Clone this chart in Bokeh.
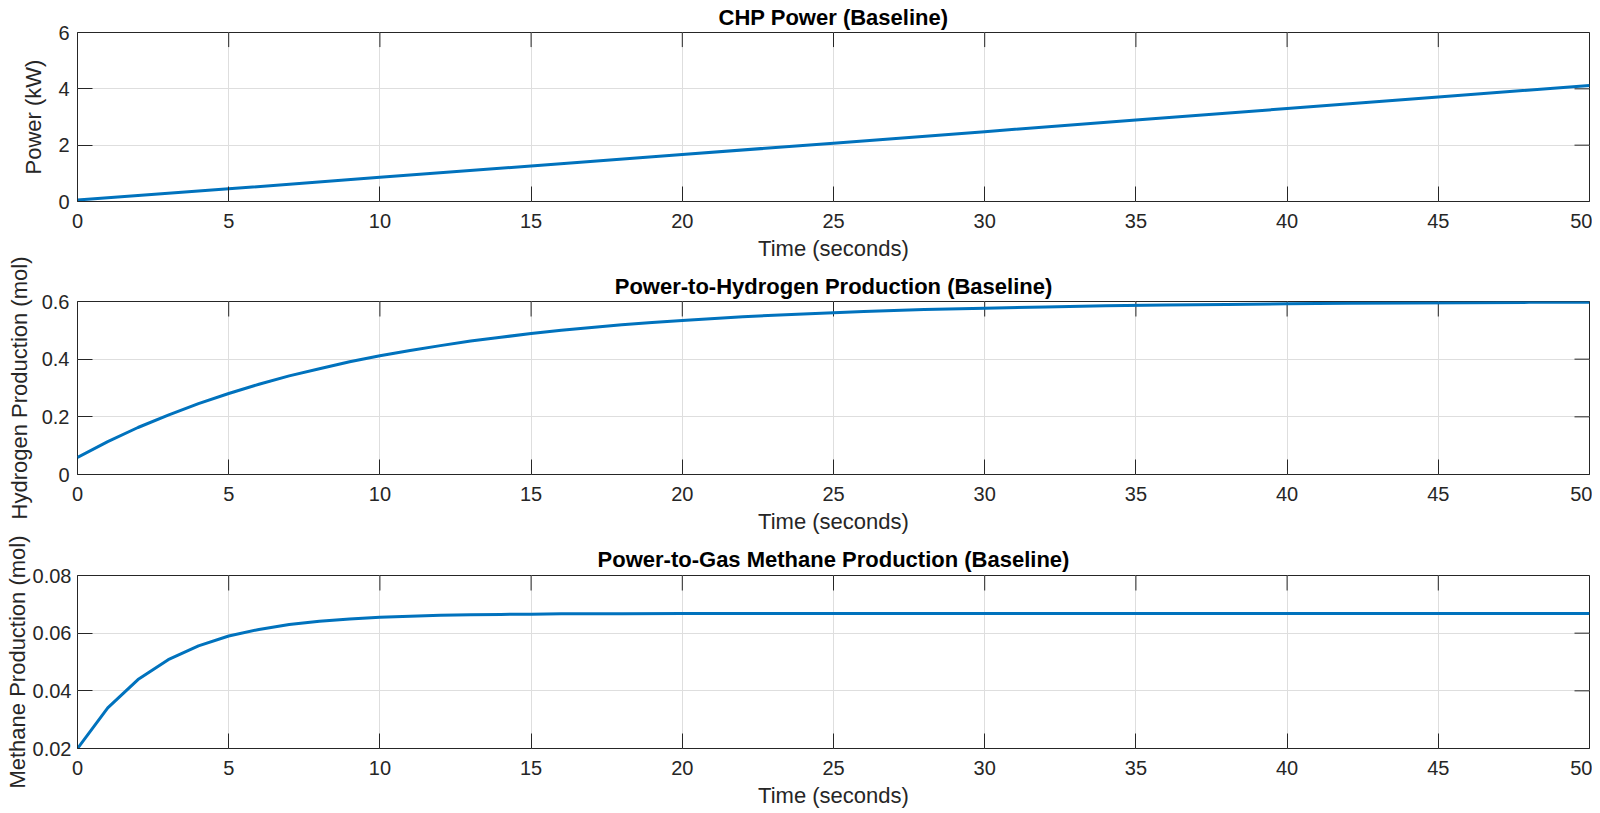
from bokeh.plotting import figure
from bokeh.models import Range1d
from bokeh.layouts import column
from bokeh.embed import file_html
from bokeh.resources import INLINE

# ---------------- data ----------------
x_ticks = [0, 5, 10, 15, 20, 25, 30, 35, 40, 45, 50]
x_tick_labels = ["0", "5", "10", "15", "20", "25", "30", "35", "40", "45", "50"]

chp_time = [0, 5, 10, 15, 20, 25, 30, 35, 40, 45, 50]
chp_power = [0.05, 0.45, 0.86, 1.26, 1.67, 2.07, 2.48, 2.89, 3.30, 3.71, 4.12]
chp_yticks = [0, 2, 4, 6]
chp_ytick_labels = ["0", "2", "4", "6"]

h2_time = [0, 1, 2, 3, 4, 5, 6, 7, 8, 9, 10, 11, 12, 13, 14, 15, 16, 17, 18, 19, 20,
           22, 24, 26, 28, 30, 32, 34, 36, 38, 40, 42, 44, 46, 48, 50]
h2_production = [0.059, 0.114, 0.163, 0.206, 0.246, 0.281, 0.313, 0.342, 0.367, 0.391,
                 0.412, 0.430, 0.447, 0.463, 0.476, 0.489, 0.500, 0.510, 0.519, 0.527,
                 0.534, 0.547, 0.557, 0.565, 0.572, 0.577, 0.581, 0.585, 0.588, 0.590,
                 0.592, 0.594, 0.595, 0.596, 0.597, 0.597]
h2_yticks = [0, 0.2, 0.4, 0.6]
h2_ytick_labels = ["0", "0.2", "0.4", "0.6"]

ch4_time = [0, 1, 2, 3, 4, 5, 6, 7, 8, 9, 10, 11, 12, 13, 14, 15, 16, 17, 18, 20,
            25, 30, 35, 40, 45, 50]
ch4_production = [0.0200, 0.0341, 0.0439, 0.0508, 0.0556, 0.0590, 0.0613, 0.0630, 0.0641,
                  0.0649, 0.0655, 0.0659, 0.0662, 0.0664, 0.0665, 0.0666, 0.0667, 0.0667,
                  0.0667, 0.0668, 0.0668, 0.0668, 0.0668, 0.0668, 0.0668, 0.0668]
ch4_yticks = [0.02, 0.04, 0.06, 0.08]
ch4_ytick_labels = ["0.02", "0.04", "0.06", "0.08"]

# ---------------- styling ----------------
FONT = "Liberation Sans"
AX_COLOR = "#262626"
GRID_COLOR = "#dedede"
LINE_COLOR = "#0072BD"
FIG_W = 1592
BORDER_L = 77
BORDER_R = 3
TICK_LEN = 15


def make_panel(x, y, title, ylabel, yrange, yticks, ytick_labels,
               top, frame_h, bottom, title_standoff, ytick_standoff, ylabel_standoff,
               overlap):
    kwargs = {}
    if overlap:
        kwargs["styles"] = {"margin-top": f"-{overlap}px"}
    p = figure(width=FIG_W, height=top + frame_h + bottom,
               x_range=Range1d(0, 50), y_range=Range1d(*yrange),
               output_backend="svg", toolbar_location=None,
               min_border_left=BORDER_L, min_border_right=BORDER_R,
               min_border_top=top, min_border_bottom=bottom, **kwargs)
    p.background_fill_color = "white"
    p.border_fill_color = None
    p.outline_line_color = AX_COLOR
    p.outline_line_width = 1
    p.outline_line_alpha = 1.0

    # title
    p.title.text = title
    p.title.align = "center"
    p.title.text_font = FONT
    p.title.text_font_size = "22px"
    p.title.text_font_style = "bold"
    p.title.text_color = "black"
    p.title.standoff = title_standoff

    xa = p.xaxis[0]
    ya = p.yaxis[0]
    xa.ticker = x_ticks
    xa.major_label_overrides = {t: l for t, l in zip(x_ticks, x_tick_labels)}
    ya.ticker = yticks
    ya.major_label_overrides = {t: l for t, l in zip(yticks, ytick_labels)}

    for ax in (xa, ya):
        ax.axis_line_color = None
        ax.major_tick_in = TICK_LEN
        ax.major_tick_out = 0
        ax.major_tick_line_color = AX_COLOR
        ax.major_tick_line_width = 1
        ax.minor_tick_in = 0
        ax.minor_tick_out = 0
        ax.minor_tick_line_color = None
        ax.major_label_text_font = FONT
        ax.major_label_text_font_size = "20px"
        ax.major_label_text_color = AX_COLOR
        ax.axis_label_text_font = FONT
        ax.axis_label_text_font_size = "22px"
        ax.axis_label_text_font_style = "normal"
        ax.axis_label_text_color = AX_COLOR

    xa.axis_label = "Time (seconds)"
    xa.major_label_standoff = 12
    xa.axis_label_standoff = 5

    ya.axis_label = ylabel
    ya.major_label_standoff = ytick_standoff
    ya.axis_label_standoff = ylabel_standoff

    p.xgrid.grid_line_color = GRID_COLOR
    p.ygrid.grid_line_color = GRID_COLOR
    p.xgrid.grid_line_width = 1
    p.ygrid.grid_line_width = 1

    # inward ticks on the top and right edges of the box (MATLAB "box on")
    y0, y1 = yrange
    dy = (y1 - y0) * TICK_LEN / frame_h
    dx = 50 * TICK_LEN / (FIG_W - BORDER_L - BORDER_R)
    p.segment(x0=x_ticks, y0=[y1] * len(x_ticks), x1=x_ticks, y1=[y1 - dy] * len(x_ticks),
              line_color=AX_COLOR, line_width=1)
    p.segment(x0=[50] * len(yticks), y0=yticks, x1=[50 - dx] * len(yticks), y1=yticks,
              line_color=AX_COLOR, line_width=1)

    p.line(x, y, line_color=LINE_COLOR, line_width=3, line_join="round")
    return p


p1 = make_panel(chp_time, chp_power, "CHP Power (Baseline)", "Power (kW)",
                (0, 6), chp_yticks, chp_ytick_labels,
                27, 174, 64, 5, 8, 9, 0)
p2 = make_panel(h2_time, h2_production, "Power-to-Hydrogen Production (Baseline)",
                "Hydrogen Production (mol)", (0, 0.6), h2_yticks, h2_ytick_labels,
                60, 173, 64, 5, 8, 7, 24)
p3 = make_panel(ch4_time, ch4_production, "Power-to-Gas Methane Production (Baseline)",
                "Methane Production (mol)", (0.02, 0.08), ch4_yticks, ch4_ytick_labels,
                60, 173, 64, 7, 6, 0, 23)

layout = column(p1, p2, p3, spacing=0)
open("out.html", "w").write(file_html(layout, INLINE))
